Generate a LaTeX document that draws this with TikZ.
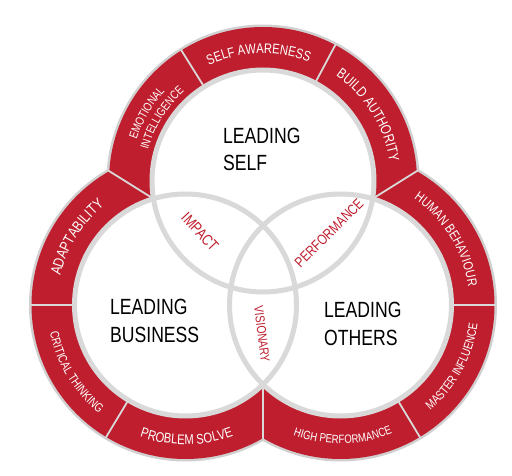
\documentclass[tikz,border=0pt]{standalone}
\usepackage{fontspec}
\usetikzlibrary{decorations.text,calc}
\newfontfamily\hand[FakeStretch=0.8]{Liberation Sans}
\definecolor{ringred}{HTML}{BE1E2D}
\definecolor{ringgray}{RGB}{217,217,217}
\definecolor{edgegray}{RGB}{208,208,208}
\newcommand{\RingText}[6]{%
  \path[decorate,decoration={text along path,text align=center,
    text={|\hand\fontsize{#5}{#5}\selectfont\color{white}|#6}}]
    (#1) ++(#2:#4) arc[start angle=#2,end angle=#3,radius=#4];}
\begin{document}
\begin{tikzpicture}[x=1pt,y=1pt,
  divider/.style={draw=ringgray,line width=1.8pt},
  innerring/.style={draw=ringgray,line width=5pt},
  bigtext/.style={anchor=base west,inner sep=0pt,font=\hand\fontsize{22}{22}\selectfont},
  lenstext/.style={inner sep=0pt,text=ringred}]
\useasboundingbox (0,0) rectangle (512,475);
% centres
\coordinate (T) at (263,294);
\coordinate (L) at (185.5,170);
\coordinate (R) at (340.5,170);
% junction points
\coordinate (jTLo) at (108.35,304.4);
\coordinate (jTLi) at (153.43,276.27);
\coordinate (jTRo) at (417.65,304.4);
\coordinate (jTRi) at (372.57,276.27);
\coordinate (jLRo) at (263,35.77);
\coordinate (jLRi) at (263,90.53);
% outer edge and red ring
\foreach \c in {T,L,R} \draw[edgegray,line width=3pt] (\c) circle[radius=155];
\foreach \c in {T,L,R} \fill[ringred] (\c) circle[radius=154];
% dividers
\draw[divider] (jTLo) -- (jTLi);
\draw[divider] (jTRo) -- (jTRi);
\draw[divider] (jLRo) -- (jLRi);
\foreach \c/\a in {T/62,T/122,L/180,L/239,R/0,R/301}
  \draw[divider] ($(\c)+(\a:108)$) -- ($(\c)+(\a:155)$);
% inner white circles
\foreach \c in {T,L,R} \fill[white] (\c) circle[radius=111];
\foreach \c in {T,L,R} \draw[innerring] (\c) circle[radius=111];
% ring texts
\RingText{T}{150}{34}{127.5}{14}{SELF AWARENESS}
\RingText{T}{180}{119.4}{133}{12}{EMOTIONAL}
\RingText{T}{178}{118}{119}{12}{INTELLIGENCE}
\RingText{T}{62}{2}{128}{14.5}{BUILD AUTHORITY}
\RingText{L}{178}{118}{128.5}{15}{ADAPTABILITY}
\RingText{L}{181.5}{241.5}{138.5}{12.5}{CRITICAL THINKING}
\RingText{L}{240.5}{300.5}{139.5}{14}{PROBLEM SOLVE}
\RingText{R}{61.7}{1.7}{129}{13.5}{HUMAN BEHAVIOUR}
\RingText{R}{-58.7}{1.3}{138.5}{12.5}{MASTER INFLUENCE}
\RingText{R}{-119}{-59}{138.5}{12}{HIGH PERFORMANCE}
% main labels
\node[bigtext] (selfA) at (223,331) {LEADING};
\node[bigtext] (selfB) at (223,304) {SELF};
\node[bigtext] (busA) at (110,161) {LEADING};
\node[bigtext] (busB) at (110,133) {BUSINESS};
\node[bigtext] (othA) at (324,158) {LEADING};
\node[bigtext] (othB) at (324,130) {OTHERS};
% lens labels
\node[lenstext,rotate=-47,font=\hand\fontsize{15.5}{15.5}\selectfont] (impact) at (200,243) {IMPACT};
\node[lenstext,rotate=45,font=\hand\fontsize{14.5}{14.5}\selectfont] (perf) at (329,242) {PERFORMANCE};
\node[lenstext,rotate=-83,font=\hand\fontsize{13}{13}\selectfont] (vis) at (262,141) {VISIONARY};
\end{tikzpicture}
\end{document}
